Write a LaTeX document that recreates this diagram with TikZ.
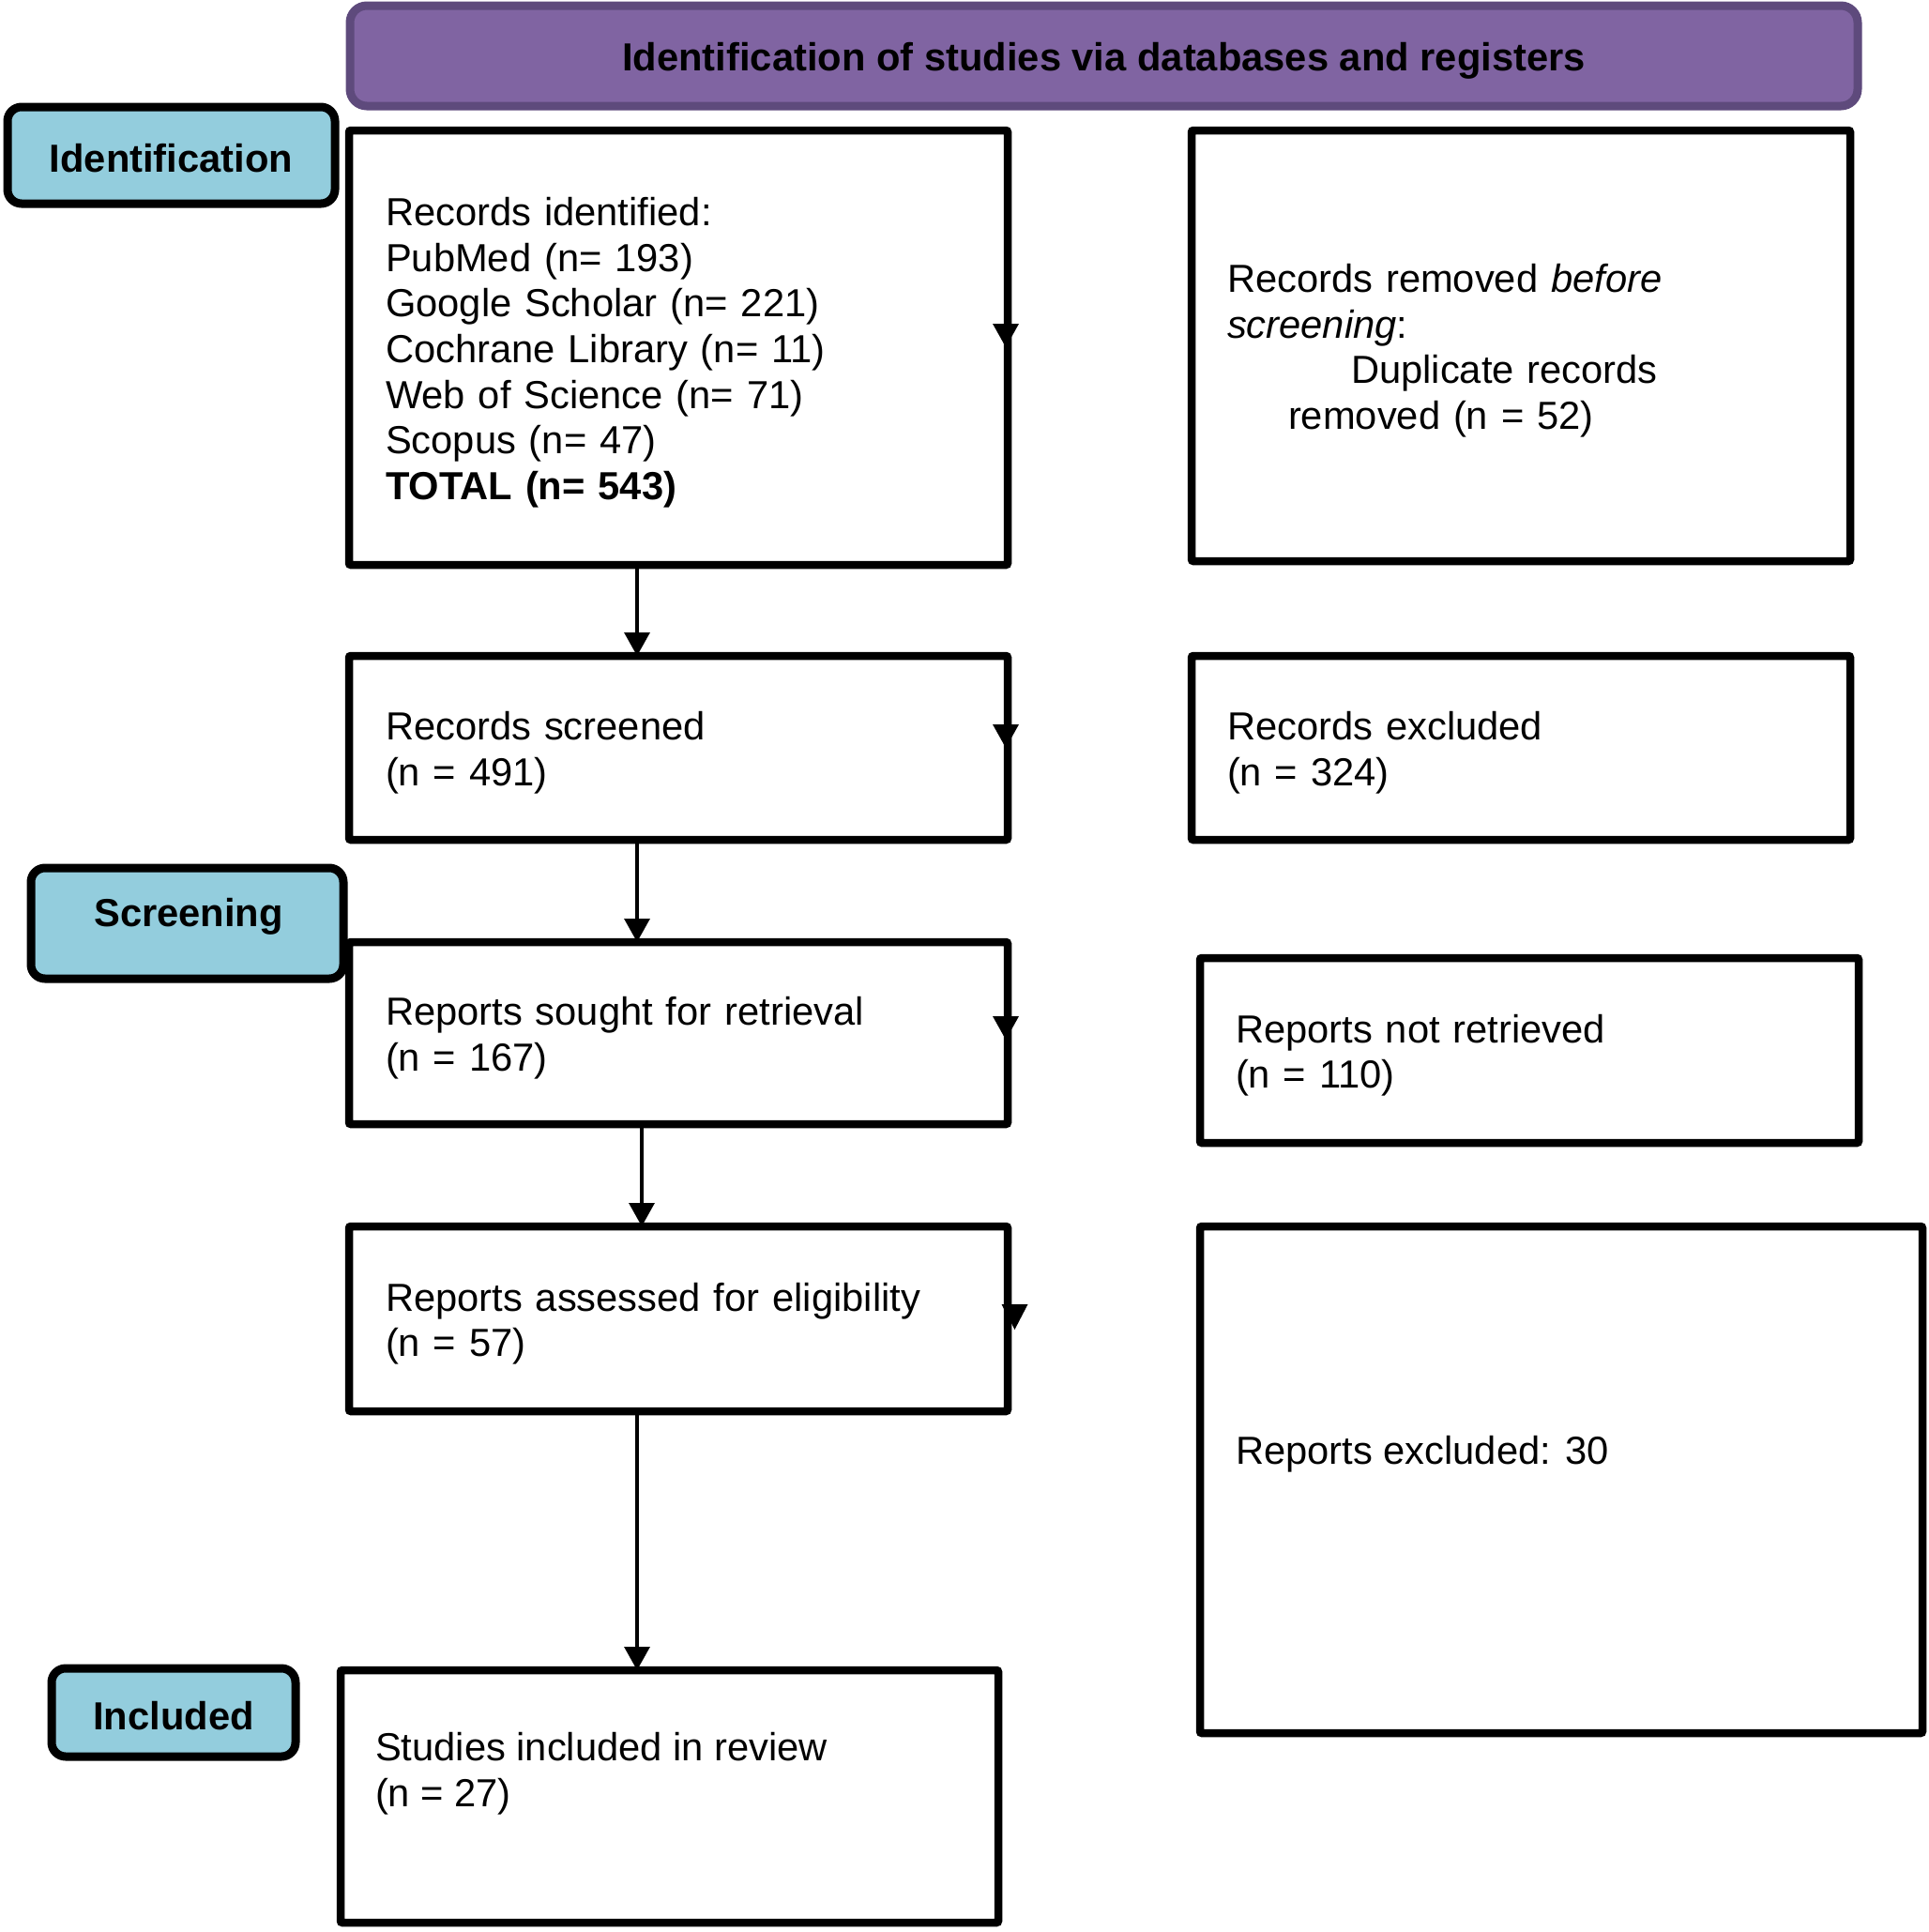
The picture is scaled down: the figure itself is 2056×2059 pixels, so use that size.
\documentclass[tikz,border=0pt]{standalone}
\usepackage{fontspec}
\setmainfont{Liberation Sans}
\usetikzlibrary{arrows.meta}
\definecolor{lblue}{HTML}{93CDDD}
\definecolor{pfill}{HTML}{8064A2}
\definecolor{pdraw}{HTML}{5E4A7C}
\newcommand{\tup}[1]{\rule{0pt}{#1}}
\begin{document}
\begin{tikzpicture}[x=1pt,y=-1pt,
  every node/.style={font=\fontsize{41.7pt}{48.6pt}\selectfont, inner sep=0pt, outer sep=0pt},
  box/.style={draw=black, line width=8.5pt, fill=white, rounded corners=2pt, align=left},
  phase/.style={draw=black, line width=9pt, fill=lblue, rounded corners=15pt, font=\fontsize{41.7pt}{48.6pt}\selectfont\bfseries},
  titlebox/.style={draw=pdraw, line width=9pt, fill=pfill, rounded corners=18pt, font=\fontsize{41.7pt}{48.6pt}\selectfont\bfseries},
  txt/.style={align=left, anchor=west},
  arr/.style={line width=3.3pt, -{Triangle[width=27pt,length=25pt]}},
  sidetip/.style={fill=black}
]
\useasboundingbox (0,0) rectangle (2056,2059);

% title
\node[titlebox, minimum width=1607pt, minimum height=107pt] (title) at (1176.5,59.5)
  {\tup{40.5pt}Identification of studies via databases and registers};

% phase labels
\node[phase, minimum width=349pt, minimum height=103pt] (idp) at (182.5,165.5) {\tup{36.5pt}Identification};
\node[phase, minimum width=333pt, minimum height=118pt] (scp) at (199.5,984) {};
\node[font=\fontsize{41.7pt}{48.6pt}\selectfont\bfseries] (scpt) at (201,977) {Screening};
\node[phase, minimum width=260pt, minimum height=94pt] (inp) at (185,1825) {\tup{36.5pt}Included};

% left column
\node[box, minimum width=702pt, minimum height=463pt, text width=624pt] (b1) at (723,370.5)
  {\tup{40.5pt}Records identified:\\
   PubMed (n= 193)\\
   Google Scholar (n= 221)\\
   Cochrane Library (n= 11)\\
   Web of Science (n= 71)\\
   Scopus (n= 47)\\
   \textbf{TOTAL (n= 543)}};
\node[box, minimum width=702pt, minimum height=196pt, text width=624pt] (b2) at (723,797)
  {\tup{40.5pt}Records screened\\(n = 491)};
\node[box, minimum width=702pt, minimum height=194pt, text width=624pt] (b3) at (723,1101)
  {\tup{40.5pt}Reports sought for retrieval\\(n = 167)};
\node[box, minimum width=702pt, minimum height=197pt, text width=624pt] (b4) at (723,1405.5)
  {\tup{40.5pt}Reports assessed for eligibility\\(n = 57)};
\node[box, minimum width=701pt, minimum height=269pt] (b5) at (713.5,1914.5) {};
\node[txt] (b5t) at (400,1890) {Studies included in review\\(n = 27)};

% right column
\node[box, minimum width=702pt, minimum height=459pt, text width=626pt] (r1) at (1621,368.5)
  {\tup{40.5pt}Records removed \textit{before}\\
   \textit{screening}:\\
   \hspace*{132pt}Duplicate records\\
   \hspace*{65pt}removed (n = 52)};
\node[box, minimum width=702pt, minimum height=196pt, text width=626pt] (r2) at (1621,797)
  {\tup{40.5pt}Records excluded\\(n = 324)};
\node[box, minimum width=702pt, minimum height=197pt, text width=626pt] (r3) at (1630,1119.5)
  {\tup{40.5pt}Reports not retrieved\\(n = 110)};
\node[box, minimum width=770pt, minimum height=540pt] (r4) at (1664,1577) {};
\node[txt] (r4t) at (1317,1550) {Reports excluded: 30};

% vertical connectors
\draw[arr] ([xshift=-44pt]b1.south) -- ([xshift=-44pt]b2.north);
\draw[arr] ([xshift=-44pt]b2.south) -- ([xshift=-44pt]b3.north);
\draw[arr] ([xshift=-39pt]b3.south) -- ([xshift=-39pt]b4.north);
\draw[arr] ([xshift=-44pt]b4.south) -- ([xshift=-44pt]b4.south |- b5.north);

% collapsed side arrow tips on the right edges
\fill[sidetip] ([xshift=-16pt,yshift=-206pt]b1.north east) -- ++(28,0) -- ++(-14,25) -- cycle;
\fill[sidetip] ([xshift=-16pt,yshift=-73pt]b2.north east) -- ++(28,0) -- ++(-14,25) -- cycle;
\fill[sidetip] ([xshift=-16pt,yshift=-79pt]b3.north east) -- ++(28,0) -- ++(-14,25) -- cycle;
\fill[sidetip] ([xshift=-6.5pt,yshift=-83pt]b4.north east) -- ++(28,0) -- ++(-14,27) -- cycle;
\end{tikzpicture}
\end{document}
